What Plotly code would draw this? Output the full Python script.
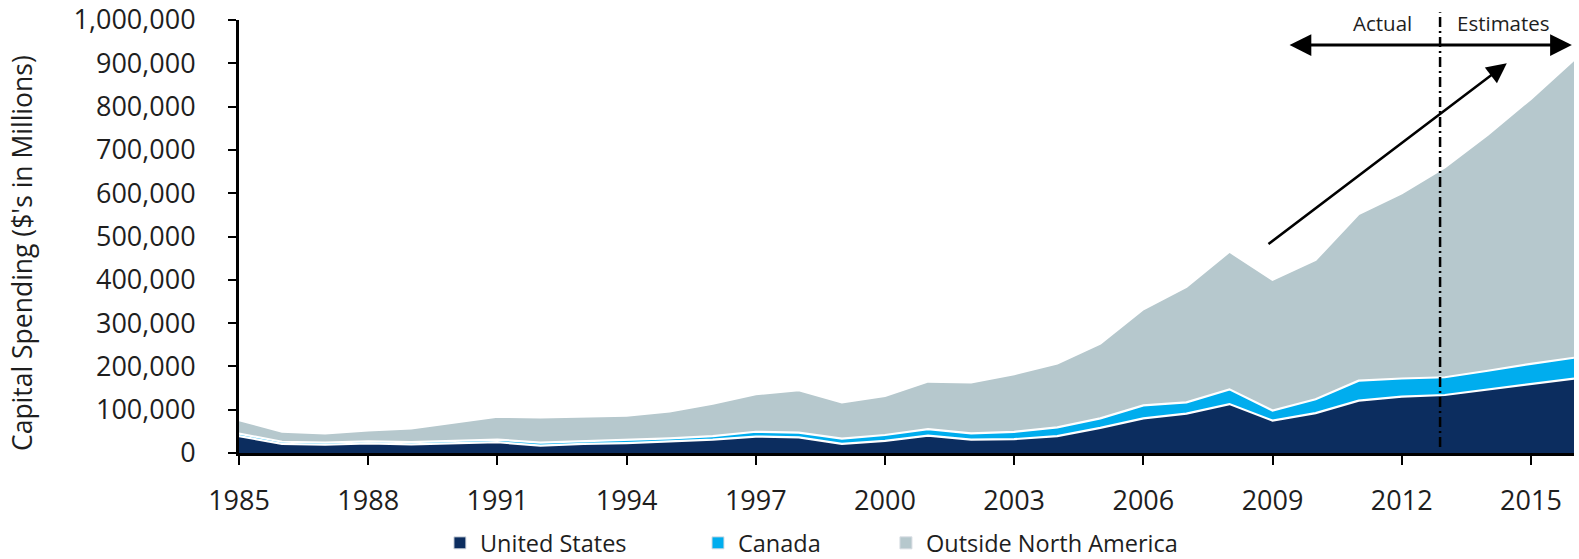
import plotly.graph_objects as go

# ---- data ($ millions) ----
years = list(range(1985, 2017))
united_states = [39000, 21000, 19000, 22000, 20000, 22000, 25000, 17000, 21000, 23000,
                 27000, 31000, 38000, 36000, 21000, 28000, 40000, 31000, 32000, 39000,
                 58000, 80000, 91000, 113000, 75000, 92000, 121000, 130000, 134000, 147000,
                 159000, 172000]
canada = [6000, 5000, 5000, 5000, 5000, 6000, 6000, 7000, 6000, 7000,
          7000, 8000, 11000, 11000, 12000, 13500, 15000, 14500, 17000, 20000,
          22000, 30000, 26000, 34000, 23000, 32000, 46000, 42000, 41000, 43000,
          47000, 48000]
outside_na = [31000, 23000, 21000, 25000, 32000, 42000, 53000, 58000, 57000, 56000,
              62000, 75000, 87000, 98000, 84000, 90500, 110000, 117500, 133000, 148000,
              173000, 222000, 267000, 318000, 302000, 322000, 385000, 428000, 485000, 545000,
              612000, 688000]
series_names = ["United States", "Canada", "Outside North America"]
series_colors = ["#0c2d5f", "#00adee", "#b6c8cd"]
series_values = [united_states, canada, outside_na]
x_ticks = list(range(1985, 2017, 3))
y_ticks = list(range(0, 1000001, 100000))
divider_year = 2012.89

FONT = "Open Sans"
TXT = "#1e1e1e"

fig = go.Figure()
for name, col, vals in zip(series_names, series_colors, series_values):
    fig.add_trace(go.Scatter(
        x=years, y=vals, name=name, mode="lines", stackgroup="one",
        line=dict(color="white", width=2.2), fillcolor=col, showlegend=False,
        hoverinfo="x+y+name"))

# legend entries (one legend per item so spacing can match the reference)
legend_ids = ["legend", "legend2", "legend3"]
legend_x = [0.1505, 0.3438, 0.4846]
for name, col, lid in zip(series_names, series_colors, legend_ids):
    fig.add_trace(go.Scatter(
        x=[None], y=[None], mode="markers", name=name, legend=lid,
        marker=dict(symbol="square", size=12, color=col,
                    line=dict(color="#d8dde3", width=1)),
        showlegend=True))

legend_common = dict(orientation="h", yanchor="middle", y=-0.208, xanchor="left",
                     font=dict(family=FONT, size=23.5, color=TXT),
                     bgcolor="rgba(0,0,0,0)", itemwidth=30)
fig.update_layout(
    legend=dict(x=legend_x[0], **legend_common),
    legend2=dict(x=legend_x[1], **legend_common),
    legend3=dict(x=legend_x[2], **legend_common),
)

fig.update_layout(
    width=1579, height=559,
    margin=dict(l=239, r=5, t=20, b=106, autoexpand=False),
    paper_bgcolor="white", plot_bgcolor="white",
    font=dict(family=FONT, size=25, color=TXT),
    xaxis=dict(range=[1985, 2016], tickmode="array", tickvals=x_ticks,
               ticks="outside", ticklen=9, tickwidth=2, tickcolor="black",
               showline=True, linewidth=3, linecolor="black",
               showgrid=False, zeroline=False,
               tickfont=dict(family=FONT, size=27, color=TXT),
               ticklabelstandoff=13),
    yaxis=dict(range=[0, 1000000], tickmode="array", tickvals=y_ticks,
               tickformat=",", ticks="outside", ticklen=8, tickwidth=2,
               tickcolor="black", showline=True, linewidth=3, linecolor="black",
               showgrid=False, zeroline=False,
               tickfont=dict(family=FONT, size=27, color=TXT),
               ticklabelstandoff=27),
)

# y-axis title (placed as in the reference, slightly below the plot-area centre)
fig.add_annotation(text="Capital Spending ($'s in Millions)", textangle=-90,
                   xref="paper", yref="paper", x=-0.1625, y=0.462,
                   xanchor="center", yanchor="middle", showarrow=False,
                   font=dict(family=FONT, size=26.5, color=TXT))

# Actual / Estimates divider
fig.add_shape(type="line", xref="x", yref="paper", x0=divider_year, x1=divider_year,
              y0=0.014, y1=1.018, line=dict(color="black", width=2.5,
                                               dash="10px,4px,2px,4px"))

# double-headed arrow
fig.add_annotation(x=2015.95, y=942000, ax=2009.36, ay=942000, xref="x", yref="y",
                   axref="x", ayref="y", text="", showarrow=True, arrowhead=2,
                   arrowside="end+start", arrowwidth=3, arrowsize=1.45,
                   arrowcolor="black")
# trend arrow
fig.add_annotation(x=2014.44, y=900000, ax=2008.87, ay=480000, xref="x", yref="y",
                   axref="x", ayref="y", text="", showarrow=True, arrowhead=2,
                   arrowwidth=2.5, arrowsize=1.6, arrowcolor="black")

fig.add_annotation(x=2011.56, y=993000, xref="x", yref="y", text="Actual",
                   showarrow=False, font=dict(family=FONT, size=20.5, color=TXT))
fig.add_annotation(x=2014.36, y=993000, xref="x", yref="y", text="Estimates",
                   showarrow=False, font=dict(family=FONT, size=20.5, color=TXT))

fig.write_html("out.html", config={"displayModeBar": False},
               post_script="document.body.style.margin='0';")
